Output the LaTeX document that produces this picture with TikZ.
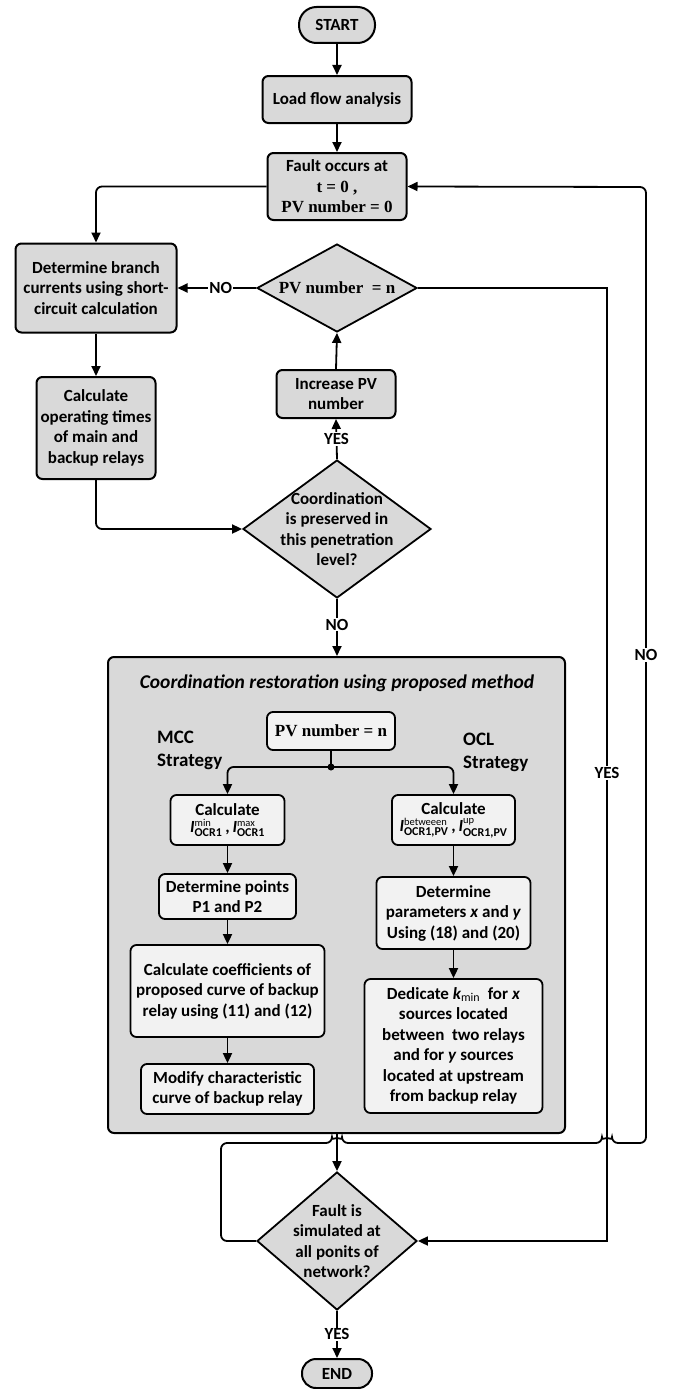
\documentclass[tikz,border=0pt]{standalone}
\usepackage{fontspec}
\usepackage{amsmath}
\setmainfont{Carlito}
\newfontfamily\tnr{Liberation Serif}
\usetikzlibrary{arrows.meta,shapes.geometric}
\definecolor{boxgray}{HTML}{D9D9D9}
\definecolor{ltgray}{HTML}{F2F2F2}
\newcommand\supt[1]{\text{\fontsize{10.5}{11}\selectfont\mdseries #1}}
\newcommand\subt[1]{\text{\fontsize{12}{12}\selectfont\bfseries #1}}
\begin{document}
\begin{tikzpicture}[x=1pt,y=1pt,
  font=\fontsize{17}{20.5}\selectfont\bfseries,
  box/.style={draw, line width=2pt, rounded corners=6pt, fill=boxgray, inner sep=0pt, align=center},
  ibox/.style={box, fill=ltgray, line width=1.8pt},
  dia/.style={draw, diamond, line width=1.8pt, fill=boxgray, inner sep=0pt},
  dtext/.style={align=center, inner sep=0pt},
  conn/.style={line width=1.8pt, -{Triangle[length=10pt,width=9pt]}},
  wire/.style={line width=1.8pt},
  lbl/.style={fill=white, inner sep=1pt},
  strat/.style={anchor=north west, align=left, inner sep=0pt, font=\fontsize{19}{23}\selectfont\bfseries}
]
\useasboundingbox (0,0) rectangle (677,-1389);
% main column
\node[box, minimum width=76, minimum height=36, rounded corners=17.5pt] (start) at (337,-25) {START};
\node[box, minimum width=149, minimum height=47] (load) at (337,-99.5) {Load flow analysis};
\node[box, minimum width=139, minimum height=67] (fault) at (337,-186.5) {Fault occurs at\\{\tnr t = 0 ,}\\{\tnr PV number = 0}};
\node[box, minimum width=161, minimum height=89] (branch) at (96,-288) {Determine branch\\currents using short-\\circuit calculation};
\node[dia, minimum width=160, minimum height=88] (pvn) at (337,-288) {};
\node[dtext] (pvnt) at (pvn) {\tnr PV number\ \ = n};
\node[box, minimum width=119, minimum height=48] (incr) at (336,-394) {Increase PV\\number};
\node[box, minimum width=119, minimum height=102] (calcop) at (96,-428) {Calculate\\operating times\\of main and\\backup relays};
\node[dia, minimum width=188, minimum height=138] (coord) at (337,-529) {};
\node[dtext] (coordt) at (coord) {Coordination\\is preserved in\\this penetration\\level?};
% big box
\node[box, minimum width=457, minimum height=476] (big) at (336.5,-895) {};
\node[font=\fontsize{19.5}{22}\selectfont\bfseries\itshape] (title) at (337,-683) {Coordination restoration using proposed method};
\node[ibox, minimum width=128, minimum height=38, font=\fontsize{17}{20}\selectfont\bfseries\tnr] (pvn2) at (331,-731) {PV number = n};
\node[strat] (mcc) at (157,-731) {MCC\\Strategy};
\node[strat] (ocl) at (463,-733) {OCL\\Strategy};
\node[circle, fill, inner sep=0pt, minimum size=7] (dot) at (331,-767) {};
\node[ibox, minimum width=114, minimum height=50] (calc1) at (227.5,-820) {Calculate\\[-3pt]$\textit{I}^{\supt{min}}_{\subt{OCR1}}\,\text{,}\,\textit{I}^{\supt{max}}_{\subt{OCR1}}$};
\node[ibox, minimum width=123, minimum height=50] (calc2) at (453.5,-820) {Calculate\\[-3pt]$\textit{I}^{\supt{betweeen}}_{\subt{OCR1,PV}}\,\text{,}\,\textit{I}^{\supt{up}}_{\subt{OCR1,PV}}$};
\node[ibox, minimum width=137, minimum height=45] (detpts) at (227.5,-896.5) {Determine points\\P1 and P2};
\node[ibox, minimum width=154, minimum height=72] (detpar) at (453.5,-913) {Determine\\parameters \textit{x} and \textit{y}\\Using (18) and (20)};
\node[ibox, minimum width=194, minimum height=92] (coeff) at (227.5,-991) {Calculate coefficients of\\proposed curve of backup\\relay using (11) and (12)};
\node[ibox, minimum width=178, minimum height=134] (dedic) at (453.5,-1046) {Dedicate $\textit{k}_{\text{\fontsize{12}{12}\selectfont\mdseries min}}$\ \ for \textit{x}\\sources located\\between\ \ two relays\\and for \textit{y} sources\\located at upstream\\from backup relay};
\node[ibox, minimum width=173, minimum height=50] (modify) at (227.5,-1089) {Modify characteristic\\curve of backup relay};
% bottom
\node[dia, minimum width=160, minimum height=138] (fsim) at (337,-1241) {};
\node[dtext] (fsimt) at (fsim) {Fault is\\simulated at\\all ponits of\\network?};
\node[box, minimum width=70, minimum height=29, rounded corners=14pt] (end) at (337,-1373.5) {END};
% connectors
\draw[conn] (start) -- (load);
\draw[conn] (load) -- (fault);
\draw[conn, rounded corners=6pt] (fault.west) -| (branch.north);
\draw[conn] (pvn.west) -- node[lbl, pos=0.45] (no1) {NO} (branch.east);
\draw[conn] (branch) -- (calcop);
\draw[conn, rounded corners=6pt] (calcop.south) |- (coord.west);
\draw[conn] (coord.north) -- node[lbl] (yes1) {YES} (incr.south);
\draw[conn] (incr.north) -- (pvn.south);
\draw[conn] (coord.south) -- node[lbl, pos=0.45] (no2) {NO} (coord.south |- big.north);
\draw[wire] (pvn2.south) -- (dot.center);
\draw[conn, rounded corners=6pt] (dot.center) -| (calc1.north);
\draw[conn, rounded corners=6pt] (dot.center) -| (calc2.north);
\draw[conn] (calc1) -- (detpts);
\draw[conn] (detpts) -- (coeff);
\draw[conn] (coeff) -- (modify);
\draw[conn] (calc2) -- (detpar);
\draw[conn] (detpar) -- (dedic);
\draw[conn] (fsim.north |- big.south) -- (fsim.north);
\draw[conn] (pvn.east) -- (607,-288) -- (607,-1241) -- (fsim.east);
\node[lbl] (yes2) at (607,-773) {YES};
\draw[conn, rounded corners=6pt] (fsim.west) -- (221,-1241) -- (221,-1143) -- (332,-1143)
  arc[start angle=180, end angle=0, radius=5] -- (602,-1143)
  arc[start angle=180, end angle=0, radius=5] -- (646,-1143) -- (646,-187) -- (fault.east);
\node[lbl] (no3) at (646,-655) {NO};
\draw[conn] (fsim.south) -- node[lbl] (yes3) {YES} (end.north);
\end{tikzpicture}
\end{document}
